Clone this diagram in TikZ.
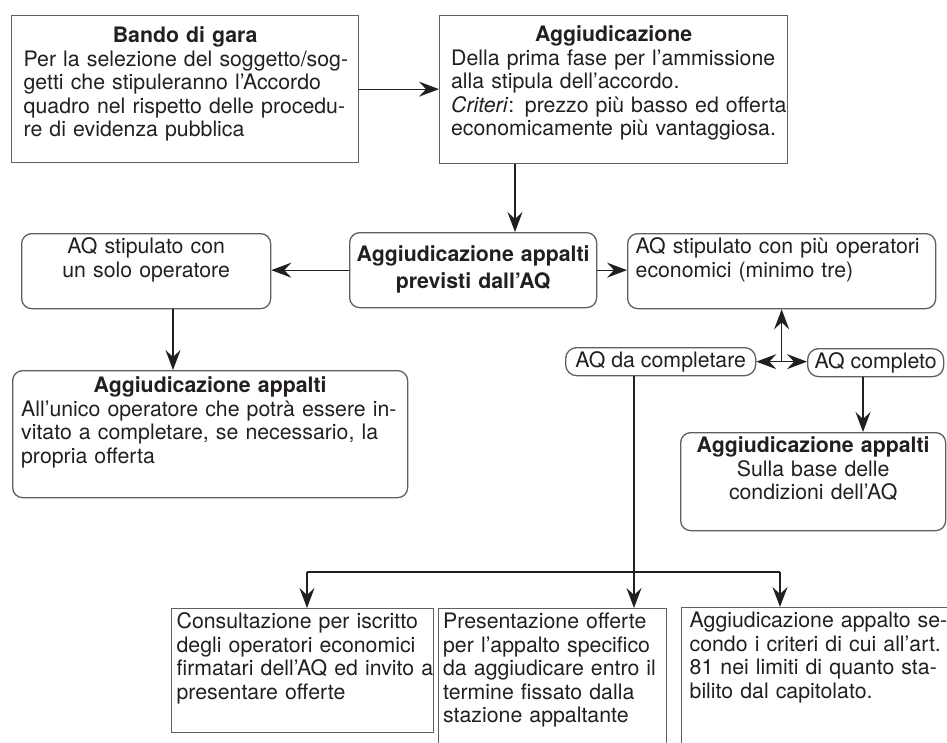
\documentclass[tikz,border=0pt]{standalone}
\usepackage{fontspec}
\setmainfont{TeX Gyre Heros}
\usepackage{tikz}
\usetikzlibrary{arrows.meta,calc}
\definecolor{linec}{RGB}{95,95,97}
\definecolor{inkc}{RGB}{35,31,32}
\newcommand{\fs}{\fontsize{21.3}{23.5}\selectfont}
\newcommand{\jl}[1]{\makebox[\linewidth][s]{#1}}
\newcommand{\ttl}[1]{\makebox[\linewidth]{\bfseries #1}}
\tikzset{
  sq/.style={rectangle,draw=linec,line width=1.3pt,anchor=north west,text=inkc,font=\fs,
    text height=16pt,inner xsep=0pt,align=left},
  rbox/.style={sq,rounded corners=10pt},
  pill/.style={sq,rounded corners=11pt},
  flow/.style={-{Stealth[length=20pt,width=15pt,inset=7pt]},line width=1.2pt,inkc},
  wire/.style={line width=1.2pt,inkc},
}
\begin{document}
\begin{tikzpicture}[x=1pt,y=-1pt]
  \useasboundingbox (0,0) rectangle (947,742);
  \clip (0,0) rectangle (947,742);
  % first phase
  \node[sq,minimum width=347pt,text width=323pt,inner ysep=11pt,text depth=109pt] (bando) at (11,15)
    {\ttl{Bando di gara}\\ \jl{Per la selezione del soggetto/sog-}\\ \jl{getti che stipuleranno l'Accordo}\\
     \jl{quadro nel rispetto delle procedu-}\\ re di evidenza pubblica};
  \node[sq,minimum width=348pt,text width=325pt,inner ysep=10pt,text depth=112pt] (aggprima) at (439,15)
    {\ttl{Aggiudicazione}\\ \jl{Della prima fase per l'ammissione}\\ alla stipula dell'accordo.\\
     \jl{\textit{Criteri}: prezzo più basso ed offerta}\\ \jl{economicamente più vantaggiosa.}};
  \draw[flow] (bando.east) -- (bando.east -| aggprima.west);
  % second phase
  \node[rbox,align=center,minimum width=247pt,text width=240pt,inner ysep=13pt,text depth=33pt,font=\fs\bfseries] (aggprev) at (349,232)
    {Aggiudicazione appalti\\[3pt]previsti dall'AQ};
  \node[rbox,align=center,minimum width=249pt,text width=230pt,inner ysep=4pt,text depth=51pt] (unsolo) at (21,233)
    {AQ stipulato con\\un solo operatore};
  \node[rbox,minimum width=308pt,text width=292pt,inner ysep=4pt,text depth=51pt] (piuop) at (627,233)
    {AQ stipulato con più operatori\\economici (minimo tre)};
  \draw[flow] ([xshift=76pt]aggprima.south west) -- ([xshift=166pt]aggprev.north west);
  \draw[flow] (aggprev.west) -- (aggprev.west -| unsolo.east);
  \draw[flow] (aggprev.east) -- (aggprev.east -| piuop.west);
  % single operator
  \node[rbox,minimum width=395pt,text width=378pt,inner ysep=6pt,text depth=99pt] (aggunico) at (12,370)
    {\ttl{Aggiudicazione appalti}\\ \jl{All'unico operatore che potrà essere in-}\\
     \jl{vitato a completare, se necessario, la}\\ propria offerta};
  \draw[flow] ([xshift=152pt]unsolo.south west) -- ([xshift=161pt]aggunico.north west);
  % several operators
  \node[pill,minimum width=190pt,inner ysep=4pt,text depth=4pt] (completare) at (565,347) {AQ da completare};
  \node[pill,minimum width=136pt,inner ysep=4pt,text depth=4pt] (completo) at (807,348) {AQ completo};
  \coordinate (jn) at (piuop.south |- completare.east);
  \draw[flow] (jn) -- (piuop.south);
  \draw[flow] (jn) -- (completare.east);
  \draw[flow] (jn) -- (jn -| completo.west);
  \node[rbox,align=center,minimum width=265pt,text width=250pt,inner ysep=4pt,text depth=74pt] (aggbase) at (680,432)
    {\textbf{Aggiudicazione appalti}\\Sulla base delle\\condizioni dell'AQ};
  \draw[flow] ([xshift=56pt]completo.south west) -- ([xshift=56pt]completo.south west |- aggbase.north);
  % AQ to be completed
  \node[sq,minimum width=262pt,text width=252pt,inner ysep=4pt,text depth=100pt] (consult) at (171,608)
    {\jl{Consultazione per iscritto}\\ \jl{degli operatori economici}\\ \jl{firmatari dell'AQ ed invito a}\\ presentare offerte};
  \node[sq,minimum width=228pt,text width=219pt,inner ysep=4pt,text depth=132pt] (present) at (438,608)
    {\jl{Presentazione offerte}\\ \jl{per l'appalto specifico}\\ \jl{da aggiudicare entro il}\\
     \jl{termine fissato dalla}\\ stazione appaltante};
  \node[sq,minimum width=270pt,text width=254pt,inner ysep=4pt,text depth=132pt] (aggart) at (681,607)
    {\jl{Aggiudicazione appalto se-}\\ \jl{condo i criteri di cui all'art.}\\ \jl{81 nei limiti di quanto sta-}\\
     bilito dal capitolato.};
  \coordinate (split) at (634,572);
  \coordinate (lft) at (307,572);
  \coordinate (rgt) at (780,572);
  \draw[wire] (completare.south -| split) -- (split);
  \draw[wire] (lft) -- (rgt);
  \draw[flow] (lft) -- (lft |- consult.north);
  \draw[flow] (split) -- (split |- present.north);
  \draw[flow] (rgt) -- (rgt |- aggart.north);
\end{tikzpicture}
\end{document}
